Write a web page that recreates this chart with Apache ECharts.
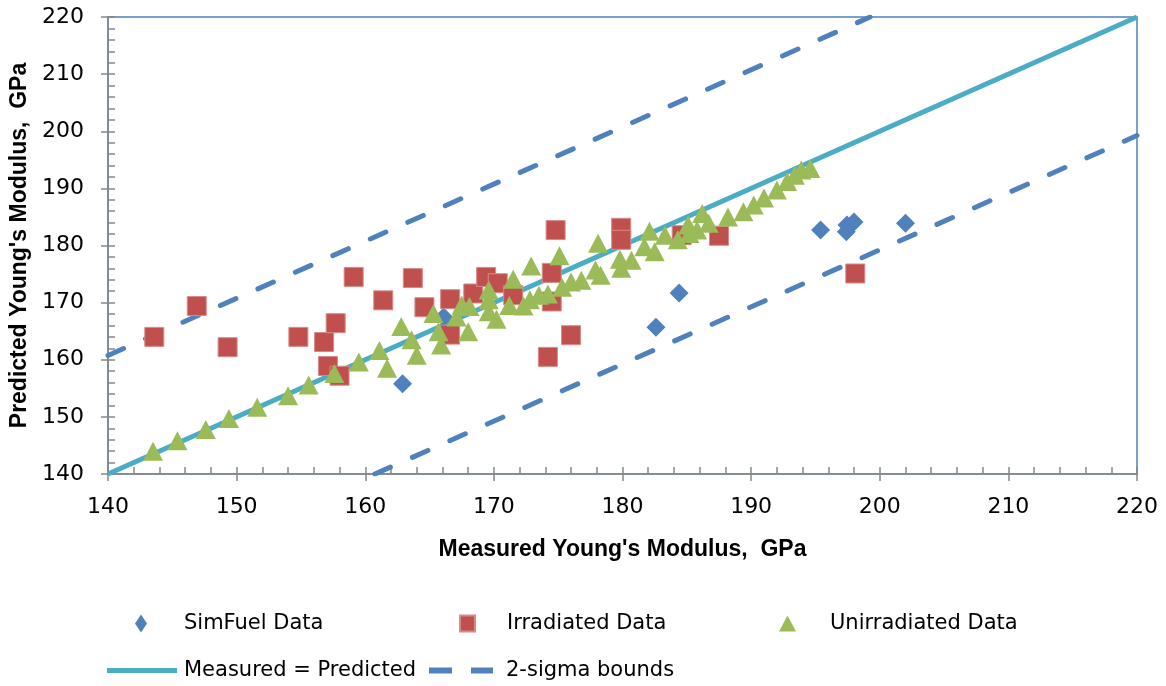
<!DOCTYPE html>
<html>
<head>
<meta charset="utf-8">
<script src="https://cdn.jsdelivr.net/npm/echarts@6/dist/echarts.min.js"></script>
<style>
html,body{margin:0;padding:0;background:#fff;}
#chart{width:1166px;height:686px;}
</style>
</head>
<body>
<div id="chart"></div>
<script>
// ---- data ----
var xTitle = "Measured Young's Modulus,  GPa";
var yTitle = "Predicted Young's Modulus,  GPa";
var axisMin = 140, axisMax = 220, majorStep = 10, minorStep = 2;

var simFuel = [
  [162.9,155.8],[166.1,167.5],[182.6,165.7],[184.4,171.7],[195.4,182.7],
  [197.4,182.4],[197.45,183.6],[198.0,184.1],[202.0,183.9]
];
var irradiated = [
  [143.6,164.0],[146.9,169.4],[149.3,162.2],[154.8,164.0],[156.8,163.1],
  [157.7,166.4],[157.1,158.9],[158.0,157.2],[159.1,174.5],[161.4,170.4],
  [163.7,174.3],[164.6,169.2],[166.6,170.6],[166.6,164.4],[168.4,171.6],
  [169.4,174.5],[170.3,173.4],[171.5,171.3],[174.5,170.2],[174.5,175.2],
  [174.8,182.7],[179.9,183.1],[179.9,181.0],[176.0,164.3],[174.2,160.5],
  [184.6,181.8],[187.5,181.7],[198.1,175.1]
];
var unirradiated = [
  [143.5,144.0],[145.4,145.8],[147.6,147.8],[149.4,149.7],[151.6,151.7],
  [154.0,153.7],[155.6,155.6],[157.6,157.6],[159.5,159.6],[161.1,161.6],
  [161.7,158.5],[162.8,165.8],[163.6,163.5],[164.0,160.8],[165.3,168.1],
  [165.7,164.9],[165.9,162.6],[167.1,167.5],[167.5,169.6],[168.1,169.3],
  [168.0,164.9],[169.6,172.2],[169.6,170.5],[169.6,168.4],[170.2,167.1],
  [171.2,169.5],[171.5,174.1],[172.3,169.4],[172.8,170.5],[172.9,176.4],
  [173.5,171.3],[174.2,171.5],[175.1,178.2],[175.3,172.7],[176.0,173.6],
  [176.8,173.9],[177.9,175.7],[178.1,180.4],[178.3,174.8],[179.8,177.6],
  [179.9,176.0],[180.7,177.4],[181.7,179.8],[182.1,182.5],[182.5,178.9],
  [183.3,181.8],[184.3,181.0],[185.1,183.6],[185.2,182.1],[185.8,182.7],
  [186.2,185.6],[186.7,183.9],[188.2,185.0],[189.4,185.9],[190.2,187.1],
  [191.0,188.3],[192.0,189.7],[192.8,191.2],[193.4,192.3],[193.9,193.2],
  [194.6,193.5]
];
var identityLine = [[140,140],[220,220]];
var upperBound = [[140,160.75],[199.25,220]];
var lowerBound = [[160.75,140],[220,199.25]];

var names = ['SimFuel Data','Irradiated Data','Unirradiated Data','Measured = Predicted','2-sigma bounds'];

// ---- chart ----
var chart = echarts.init(document.getElementById('chart'), null, {renderer:'canvas'});
var tickFont = 'DejaVu Sans';
var gray = '#868686';
function legText(padLeft){
  return {fontSize:21, fontFamily:tickFont, color:'#000', padding:[0,0,0,padLeft]};
}

function mainAxis(isX){
  return {
    type:'value', min:axisMin, max:axisMax, interval:majorStep,
    position: isX ? 'bottom' : 'left',
    axisLine:{show:true, onZero:false, lineStyle:{color:gray, width:1.5}},
    axisTick:{show:true, inside:false, length:7, lineStyle:{color:gray, width:1.5}},
    axisLabel:{fontSize:22, fontFamily:tickFont, color:'#000', margin: isX ? 22 : 24},
    splitLine:{show:false},
    name: isX ? xTitle : yTitle,
    nameLocation:'middle',
    nameGap: isX ? 64 : 76,
    nameTextStyle:{fontSize:23, fontWeight:'bold', fontFamily:'Liberation Sans', color:'#000'}
  };
}
function minorAxis(isX){
  return {
    type:'value', min:axisMin, max:axisMax, interval:minorStep,
    position: isX ? 'bottom' : 'left',
    axisLine:{show:false, onZero:false},
    axisTick:{show:true, inside:true, length:7, lineStyle:{color:gray, width:1.5}},
    axisLabel:{show:false},
    splitLine:{show:false}
  };
}

var solidIcon = 'path://M0,0h70v5h-70z';
var dashIcon = 'path://M0,0h23v6h-23z M42,0h22v6h-22z';

var option = {
  backgroundColor:'#fff',
  animation:false,
  grid:{left:108, right:29, top:17, bottom:212, show:true, borderColor:'#4F81BD', borderWidth:1.5, backgroundColor:'transparent'},
  xAxis:[mainAxis(true), minorAxis(true)],
  yAxis:[mainAxis(false), minorAxis(false)],
  legend:[
    {data:[names[0]], left:130, top:608, itemWidth:12, itemHeight:18, textStyle:legText(32)},
    {data:[names[1]], left:454, top:608, itemWidth:15, itemHeight:16, textStyle:legText(27)},
    {data:[names[2]], left:774, top:608, itemWidth:17, itemHeight:16, textStyle:legText(29)},
    {data:[{name:names[3], icon:solidIcon}], left:102, top:655, itemWidth:70, itemHeight:5, textStyle:legText(2)},
    {data:[{name:names[4], icon:dashIcon}], left:424, top:655, itemWidth:64, itemHeight:6, textStyle:legText(8)}
  ],
  series:[
    {name:names[3], type:'line', data:identityLine, symbol:'none', xAxisIndex:0, yAxisIndex:0,
     lineStyle:{color:'#4BACC6', width:5}, itemStyle:{color:'#4BACC6'}, z:2},
    {name:names[4], type:'line', data:upperBound, symbol:'none', xAxisIndex:0, yAxisIndex:0,
     lineStyle:{color:'#4F81BD', width:5, type:[17,24], cap:'round'}, itemStyle:{color:'#4F81BD'}, z:2},
    {name:names[4], type:'line', data:lowerBound, symbol:'none', xAxisIndex:0, yAxisIndex:0,
     lineStyle:{color:'#4F81BD', width:5, type:[17,24], cap:'round'}, itemStyle:{color:'#4F81BD'}, z:2},
    {name:names[0], type:'scatter', data:simFuel, symbol:'diamond', symbolSize:19, xAxisIndex:0, yAxisIndex:0,
     itemStyle:{color:'#4F81BD', opacity:1}, z:3},
    {name:names[1], type:'scatter', data:irradiated, symbol:'rect', symbolSize:19, xAxisIndex:0, yAxisIndex:0,
     itemStyle:{color:'#C0504D', borderColor:'#D98A88', borderWidth:1, opacity:1}, z:3},
    {name:names[2], type:'scatter', data:unirradiated, symbol:'triangle', symbolSize:[20,19], xAxisIndex:0, yAxisIndex:0,
     itemStyle:{color:'#9BBB59', opacity:1}, z:3}
  ]
};
chart.setOption(option);
</script>
</body>
</html>
